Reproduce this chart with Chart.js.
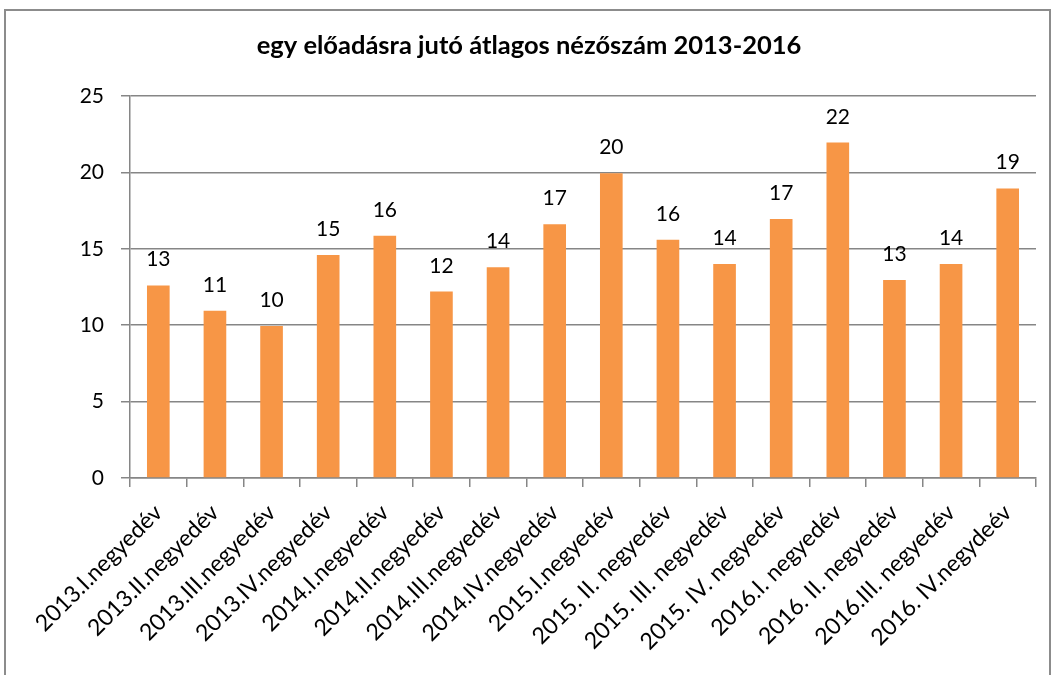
<!DOCTYPE html>
<html>
<head>
<meta charset="utf-8">
<script src="https://cdn.jsdelivr.net/npm/chart.js@4.4.1/dist/chart.umd.min.js"></script>
<style>
    html, body { margin: 0; padding: 0; background: #fff; }
    #wrap { position: relative; width: 1054px; height: 675px; }
    #frame {
        position: absolute; left: 4px; top: 9px; width: 1047px; height: 680px;
        border: 2px solid #8c8c8c; box-sizing: border-box; pointer-events: none;
    }
</style>
</head>
<body>
<div id="wrap">
    <canvas id="chart" width="1054" height="675"></canvas>
    <div id="frame"></div>
</div>
<script>
// Quarter labels as written in the source chart
const categories = [
    '2013.I.negyedév', '2013.II.negyedév', '2013.III.negyedév', '2013.IV.negyedév',
    '2014.I.negyedév', '2014.II.negyedév', '2014.III.negyedév', '2014.IV.negyedév',
    '2015.I.negyedév', '2015. II. negyedév', '2015. III. negyedév', '2015. IV. negyedév',
    '2016.I. negyedév', '2016. II. negyedév', '2016.III. negyedév', '2016. IV.negydeév'
];

// Average audience per performance
const viewers = [12.6, 10.95, 9.95, 14.6, 15.85, 12.2, 13.8, 16.6, 19.95, 15.6, 14.0, 16.95, 21.95, 12.95, 14.0, 18.95];

const yTicks = [0, 5, 10, 15, 20, 25];

const chartTitle = 'egy előadásra jutó átlagos nézőszám 2013-2016';

const gridGray = '#868686';
const fontFamily = "Lato, 'Open Sans', sans-serif";

// Title centred over the whole frame (not just the plot area)
const frameTitle = {
    id: 'frameTitle',
    afterDraw(chart) {
        const ctx = chart.ctx;
        ctx.save();
        ctx.fillStyle = '#000';
        ctx.font = 'bold 25.5px ' + fontFamily;
        ctx.textAlign = 'center';
        ctx.textBaseline = 'middle';
        ctx.fillText(chartTitle, 529, 46);
        ctx.restore();
    }
};

// Data labels above bars, rounded like the original number format
const barLabels = {
    id: 'barLabels',
    afterDatasetsDraw(chart) {
        const ctx = chart.ctx;
        const meta = chart.getDatasetMeta(0);
        ctx.save();
        ctx.fillStyle = '#000';
        ctx.font = '21px ' + fontFamily;
        ctx.textAlign = 'center';
        ctx.textBaseline = 'alphabetic';
        meta.data.forEach((bar, i) => {
            ctx.fillText(String(Math.round(viewers[i])), bar.x, bar.y - 19);
        });
        ctx.restore();
    }
};

new Chart(document.getElementById('chart'), {
    type: 'bar',
    data: {
        labels: categories,
        datasets: [{
            data: viewers,
            backgroundColor: '#F79646',
            borderWidth: 0,
            categoryPercentage: 1.0,
            barPercentage: 0.4
        }]
    },
    options: {
        responsive: false,
        animation: false,
        events: [],
        layout: { padding: { left: 0, right: 18, top: 96, bottom: 0 } },
        plugins: {
            legend: { display: false },
            tooltip: { enabled: false },
            title: { display: false }
        },
        scales: {
            x: {
                grid: { drawOnChartArea: false, drawTicks: true, tickLength: 9, color: gridGray, lineWidth: 1.5 },
                border: { color: gridGray, width: 1.5 },
                ticks: {
                    color: '#000',
                    font: { family: fontFamily, size: 23 },
                    minRotation: 45, maxRotation: 45,
                    autoSkip: false,
                    padding: 12
                },
                afterFit(scale) { scale.height = 197; }
            },
            y: {
                min: 0, max: 25,
                afterBuildTicks(scale) { scale.ticks = yTicks.map(v => ({ value: v })); },
                grid: { color: gridGray, lineWidth: 1.5, tickLength: 9 },
                border: { color: gridGray, width: 1.5 },
                ticks: {
                    color: '#000',
                    font: { family: fontFamily, size: 21 },
                    padding: 17
                },
                afterFit(scale) { scale.width = 130; }
            }
        }
    },
    plugins: [barLabels, frameTitle]
});
</script>
</body>
</html>
